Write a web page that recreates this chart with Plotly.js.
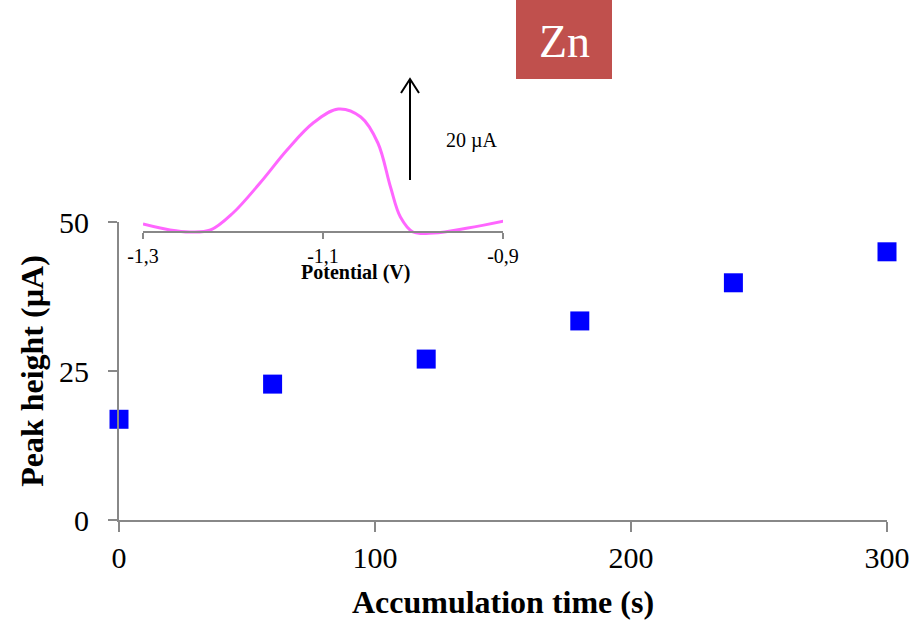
<!DOCTYPE html>
<html><head><meta charset="utf-8">
<script src="https://cdn.plot.ly/plotly-3.0.1.min.js"></script>
<style>html,body{margin:0;padding:0;background:#fff}#chart{width:916px;height:620px}</style>
</head><body><div id="chart"></div>
<script>
// Main series: peak height vs accumulation time
const accTime = [0, 60, 120, 180, 240, 300];
const peakHeight = [16.9, 22.8, 27.0, 33.4, 39.8, 45.0];
const xTicks = [0, 100, 200, 300];
const yTicks = [0, 25, 50];

// Inset voltammogram (Zn peak)
const potential = [-1.300, -1.270, -1.248, -1.225, -1.200, -1.170, -1.140, -1.111, -1.083, -1.058, -1.039, -1.025, -1.014, -1.000, -0.977, -0.939, -0.899];
const current   = [1.6, 0.4, 0.0, 0.4, 3.8, 9.8, 16.4, 21.8, 24.6, 23.0, 17.8, 9.0, 3.0, 0.0, -0.2, 0.8, 2.2];
const insetTickVals = [-1.3, -1.1, -0.9];
const insetTickText = ['-1,3', '-1,1', '-0,9'];

const serif = 'Times New Roman, Liberation Serif, serif';
// pixel -> paper helpers (plot area x:119..887, y: 20..520)
const L = 119, R = 887, T = 20, B = 520;
const px = p => (p - L) / (R - L);
const py = p => (B - p) / (B - T);

const traces = [
  {x: accTime, y: peakHeight, type: 'scatter', mode: 'markers',
   marker: {symbol: 'square', size: 19, color: '#0000ff'}, xaxis: 'x', yaxis: 'y', cliponaxis: false},
  {x: potential, y: current, type: 'scatter', mode: 'lines',
   line: {color: '#ff66ff', width: 3, shape: 'spline', smoothing: 1}, xaxis: 'x2', yaxis: 'y2'}
];

const layout = {
  width: 916, height: 620,
  margin: {l: L, r: 916 - R, t: T, b: 620 - B},
  paper_bgcolor: '#fff', plot_bgcolor: 'rgba(0,0,0,0)',
  showlegend: false,
  font: {family: serif, color: '#000'},
  xaxis: {domain: [0, 1], range: [0, 300], tickvals: xTicks, showgrid: false, zeroline: false,
    showline: true, linecolor: '#888', linewidth: 2, ticks: 'outside', ticklen: 10, tickwidth: 2, tickcolor: '#888',
    tickfont: {size: 30, family: serif}, anchor: 'y', ticklabelstandoff: 0,
    title: {text: '<b>Accumulation time (s)</b>', font: {size: 32, family: serif}, standoff: 18}},
  yaxis: {domain: [0, py(222)], range: [0, 50], tickvals: yTicks, showgrid: false, zeroline: false,
    showline: true, linecolor: '#888', linewidth: 2, ticks: 'outside', ticklen: 9, tickwidth: 2, tickcolor: '#888',
    tickfont: {size: 30, family: serif}, anchor: 'x', ticklabelstandoff: 13,
    title: {text: '<b>Peak height (µA)</b>', font: {size: 32, family: serif}, standoff: 6}},
  xaxis2: {domain: [px(143), px(503)], range: [-1.3, -0.9], tickvals: insetTickVals, ticktext: insetTickText,
    showgrid: false, zeroline: false, showline: true, linecolor: '#888', linewidth: 2,
    ticks: 'outside', ticklen: 6, tickwidth: 2, tickcolor: '#888', tickfont: {size: 20, family: serif},
    anchor: 'free', position: py(232)},
  yaxis2: {domain: [py(235), py(100)], range: [-0.6, 26.4], visible: false, anchor: 'x2'},
  shapes: [
    {type: 'rect', xref: 'paper', yref: 'paper', x0: px(516), x1: px(612), y0: py(79), y1: py(0) + 0.05,
     fillcolor: '#c0504d', line: {width: 0}, layer: 'below'},
    {type: 'line', xref: 'paper', yref: 'paper', x0: px(410), x1: px(410), y0: py(180), y1: py(79),
     line: {color: '#000', width: 2}},
    {type: 'path', xref: 'paper', yref: 'paper',
     path: `M ${px(401)} ${py(93)} L ${px(410)} ${py(79)} L ${px(419)} ${py(93)}`,
     line: {color: '#000', width: 2}}
  ],
  annotations: [
    {xref: 'paper', yref: 'paper', x: px(564), y: py(41), text: 'Zn', showarrow: false,
     font: {size: 46, color: '#fff', family: serif}, xanchor: 'center', yanchor: 'middle'},
    {xref: 'paper', yref: 'paper', x: px(472), y: py(140), text: '20 µA', showarrow: false,
     font: {size: 20, color: '#000', family: serif}, xanchor: 'center', yanchor: 'middle'},
    {xref: 'paper', yref: 'paper', x: px(355), y: py(272), text: '<b>Potential (V)</b>', showarrow: false,
     font: {size: 20, color: '#000', family: serif}, xanchor: 'center', yanchor: 'middle'}
  ]
};

Plotly.newPlot('chart', traces, layout, {displayModeBar: false, staticPlot: true});
</script>
</body></html>
